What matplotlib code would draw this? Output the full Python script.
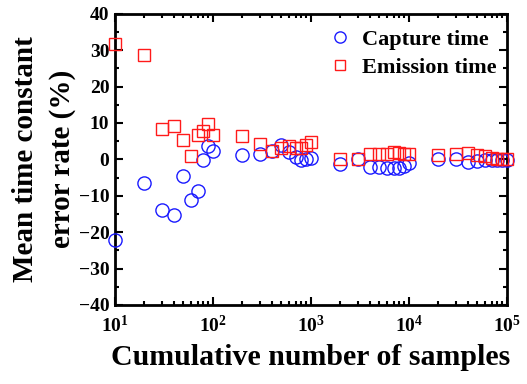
import matplotlib
matplotlib.use("Agg")
import matplotlib.pyplot as plt
from matplotlib.ticker import MultipleLocator, LogLocator, NullFormatter

plt.rcParams['font.family'] = ['Liberation Serif', 'DejaVu Serif']
plt.rcParams['font.weight'] = 'bold'
plt.rcParams['mathtext.fontset'] = 'custom'
plt.rcParams['mathtext.rm'] = 'Liberation Serif:bold'
plt.rcParams['mathtext.bf'] = 'Liberation Serif:bold'
plt.rcParams['mathtext.default'] = 'bf'

# Data
em_x = [10, 20, 30, 40, 50, 60, 70, 80, 90, 100,
        200, 300, 400, 500, 600, 700, 800, 900, 1000,
        2000, 3000, 4000, 5000, 6000, 7000, 8000, 9000, 10000,
        20000, 30000, 40000, 50000, 60000, 70000, 80000, 90000, 100000]
em_y = [31.8, 28.7, 8.3, 9.2, 5.4, 1.0, 6.6, 7.9, 9.8, 6.8,
        6.5, 4.3, 2.4, 3.0, 3.7, 3.0, 3.0, 3.9, 4.8,
        0.1, 0.1, 1.5, 1.6, 1.6, 1.9, 1.7, 1.6, 1.6,
        1.2, 1.6, 1.7, 1.1, 0.8, 0.5, 0.2, 0.2, 0.0]
cap_x = em_x
cap_y = [-22.3, -6.5, -14.0, -15.4, -4.7, -11.1, -8.7, -0.2, 3.6, 2.3,
         1.2, 1.5, 2.3, 3.9, 2.0, 0.6, -0.3, 0.1, 0.4,
         -1.3, 0.0, -2.0, -2.1, -2.3, -2.5, -2.3, -1.8, -1.1,
         0.1, 0.1, -0.6, -0.4, -0.3, -0.3, -0.2, -0.2, -0.1]

fig = plt.figure(figsize=(5.27, 3.84), dpi=100)
ax = fig.add_axes([0.218, 0.206, 0.744, 0.758])

ax.plot(cap_x, cap_y, linestyle='none', marker='o', markersize=9.5,
        markerfacecolor='none', markeredgecolor='#1a1aff', markeredgewidth=1.0,
        label='Capture time', clip_on=False, zorder=3)
ax.plot(em_x, em_y, linestyle='none', marker='s', markersize=8,
        markerfacecolor='none', markeredgecolor='#ff1a1a', markeredgewidth=1.0,
        label='Emission time', clip_on=False, zorder=4)

ax.set_xscale('log')
ax.set_xlim(10, 1e5)
ax.set_ylim(-40, 40)
ax.yaxis.set_major_locator(MultipleLocator(10))
ax.yaxis.set_minor_locator(MultipleLocator(5))
ax.xaxis.set_major_locator(LogLocator(base=10, numticks=10))
ax.xaxis.set_minor_locator(LogLocator(base=10, subs=range(2, 10), numticks=20))
ax.xaxis.set_minor_formatter(NullFormatter())

ax.tick_params(which='both', direction='in', top=True, right=True, width=1.5)
ax.tick_params(which='major', length=6, labelsize=14)
ax.tick_params(axis='x', which='major', pad=7)
ax.tick_params(axis='y', which='major', pad=4)
ax.tick_params(which='minor', length=3)
for lab in ax.get_yticklabels():
    lab.set_fontweight('bold')
for s in ax.spines.values():
    s.set_linewidth(2)

ax.set_xlabel('Cumulative number of samples', fontsize=21.5, fontweight='bold', labelpad=6)
ax.set_ylabel('Mean time constant\nerror rate (%)', fontsize=21, fontweight='bold',
              linespacing=1.45, labelpad=2)

leg = ax.legend(loc='upper right', bbox_to_anchor=(1.013, 1.0), frameon=False, fontsize=16,
                handletextpad=0.5, borderaxespad=0.1, borderpad=0.6,
                labelspacing=0.35, handlelength=1.0, markerscale=0.85)
for t in leg.get_texts():
    t.set_fontweight('bold')

fig.savefig('out.png', dpi=100)
